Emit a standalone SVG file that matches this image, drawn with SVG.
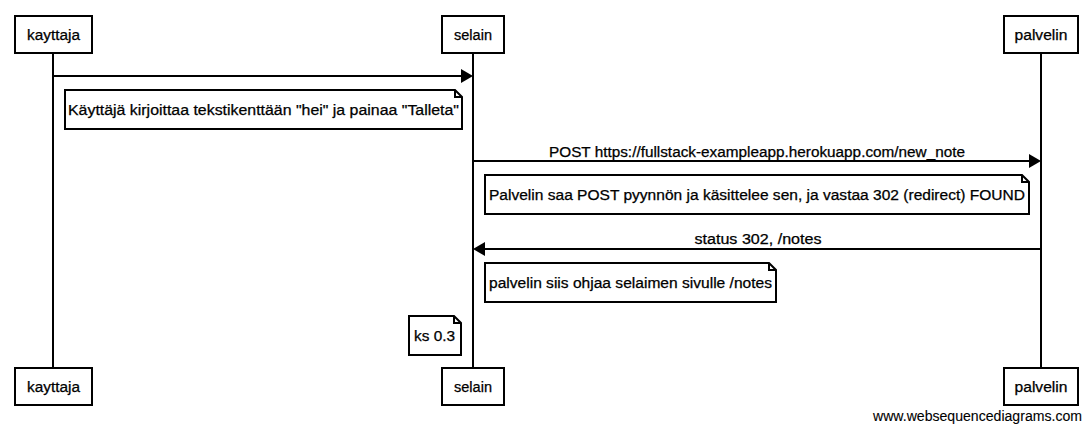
<svg xmlns="http://www.w3.org/2000/svg" width="1092" height="431" viewBox="0 0 1092 431">
<defs>
<style>
text{font-family:"Liberation Sans",Arial,sans-serif;font-size:14px;fill:#000;stroke:#000;stroke-width:0.25}
.box{fill:#fff;stroke:#000;stroke-width:2}
.life{stroke:#000;stroke-width:2;fill:none}
.msg{stroke:#000;stroke-width:2;fill:none}
.note{fill:#fff;stroke:#000;stroke-width:2}
.c{text-anchor:middle}
</style>
</defs>
<rect width="1092" height="431" fill="#fff"/>
<g id="lifelines">
<line class="life" x1="53" y1="53" x2="53" y2="368"/>
<line class="life" x1="473" y1="53" x2="473" y2="368"/>
<line class="life" x1="1041" y1="53" x2="1041" y2="368"/>
</g>
<g id="kayttaja">
<rect class="box" x="15" y="16" width="77" height="37"/>
<text class="c" x="53.5" y="40" textLength="53" lengthAdjust="spacingAndGlyphs">kayttaja</text>
<rect class="box" x="15" y="368" width="77" height="37"/>
<text class="c" x="53.5" y="392" textLength="53" lengthAdjust="spacingAndGlyphs">kayttaja</text>
</g>
<g id="selain">
<rect class="box" x="442" y="16" width="62" height="37"/>
<text class="c" x="473" y="40" textLength="38" lengthAdjust="spacingAndGlyphs">selain</text>
<rect class="box" x="442" y="368" width="62" height="37"/>
<text class="c" x="473" y="392" textLength="38" lengthAdjust="spacingAndGlyphs">selain</text>
</g>
<g id="palvelin">
<rect class="box" x="1004" y="16" width="74" height="37"/>
<text class="c" x="1041" y="40" textLength="53" lengthAdjust="spacingAndGlyphs">palvelin</text>
<rect class="box" x="1004" y="368" width="74" height="37"/>
<text class="c" x="1041" y="392" textLength="53" lengthAdjust="spacingAndGlyphs">palvelin</text>
</g>
<g id="connectors">
<line class="msg" x1="53" y1="76" x2="462" y2="76"/>
<polygon points="473,76 461,69 461,83" fill="#000"/>
<text class="c" x="757" y="157" textLength="416" lengthAdjust="spacingAndGlyphs">POST https://fullstack-exampleapp.herokuapp.com/new_note</text>
<line class="msg" x1="473" y1="161" x2="1030" y2="161"/>
<polygon points="1041,161 1029,154 1029,168" fill="#000"/>
<text class="c" x="758" y="244" textLength="127" lengthAdjust="spacingAndGlyphs">status 302, /notes</text>
<line class="msg" x1="484" y1="249" x2="1041" y2="249"/>
<polygon points="473,249 485,242 485,256" fill="#000"/>
</g>
<g id="note1">
<path class="note" d="M65,90 H455 L462,97 V129 H65 Z"/>
<path class="life" d="M455,90 V97 H462"/>
<text x="68" y="115" textLength="391" lengthAdjust="spacingAndGlyphs">Käyttäjä kirjoittaa tekstikenttään "hei" ja painaa "Talleta"</text>
</g>
<g id="note2">
<path class="note" d="M485,175 H1022 L1029,182 V214 H485 Z"/>
<path class="life" d="M1022,175 V182 H1029"/>
<text x="489" y="200" textLength="536" lengthAdjust="spacingAndGlyphs">Palvelin saa POST pyynnön ja käsittelee sen, ja vastaa 302 (redirect) FOUND</text>
</g>
<g id="note3">
<path class="note" d="M485,263 H769 L776,270 V302 H485 Z"/>
<path class="life" d="M769,263 V270 H776"/>
<text x="489" y="288" textLength="283" lengthAdjust="spacingAndGlyphs">palvelin siis ohjaa selaimen sivulle /notes</text>
</g>
<g id="note4">
<path class="note" d="M409,316 H454 L461,323 V355 H409 Z"/>
<path class="life" d="M454,316 V323 H461"/>
<text x="414" y="341" textLength="41" lengthAdjust="spacingAndGlyphs">ks 0.3</text>
</g>
<text x="1082" y="421" text-anchor="end" textLength="209" lengthAdjust="spacingAndGlyphs" style="stroke-width:0.1">www.websequencediagrams.com</text>
</svg>
